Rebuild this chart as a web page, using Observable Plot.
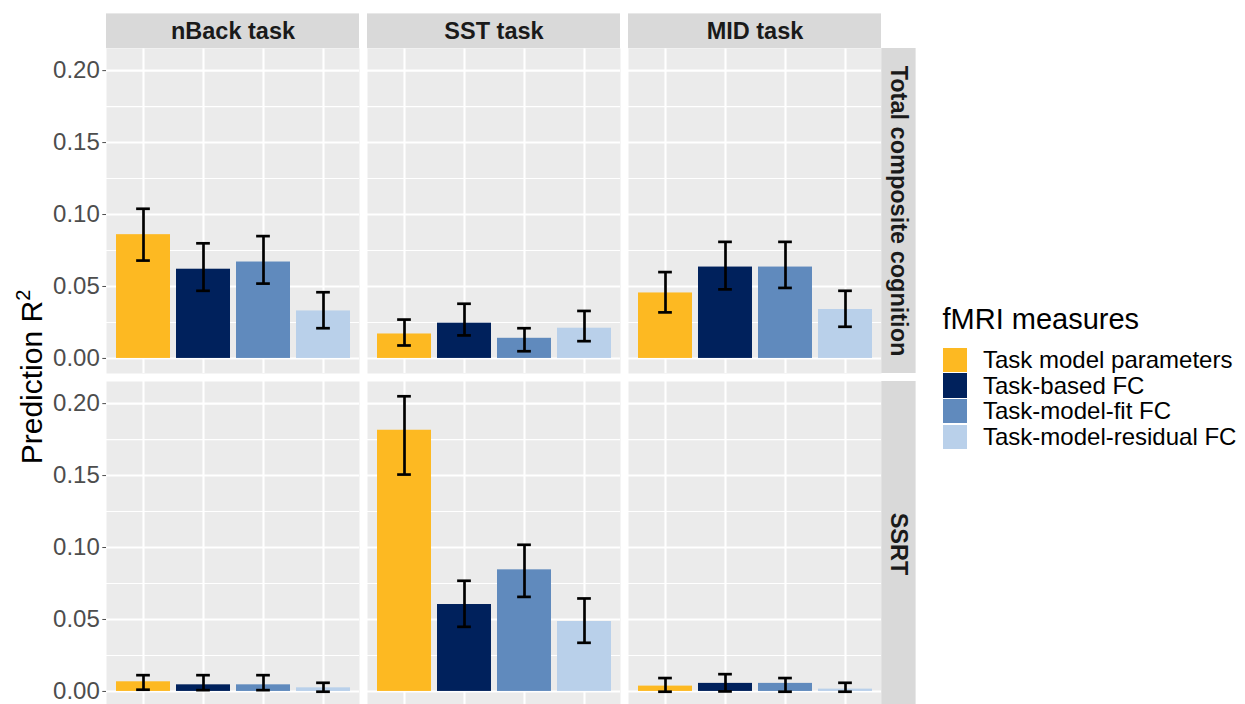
<!DOCTYPE html>
<html>
<head>
<meta charset="utf-8">
<script src="https://cdn.jsdelivr.net/npm/d3@7"></script>
<script src="https://cdn.jsdelivr.net/npm/@observablehq/plot@0.6"></script>
<style>
  html, body { margin: 0; padding: 0; background: #fff; overflow: hidden; }
  #wrap { position: relative; width: 1245px; height: 704px; overflow: hidden;
          font-family: "Liberation Sans", Arial, Helvetica, sans-serif; }
  #chart { position: absolute; left: 0; top: 0; }
  #ytitle { position: absolute; width: 400px; height: 30px; line-height: 30px;
            font-size: 30px; color: #000; text-align: center; white-space: nowrap;
            transform: rotate(-90deg); transform-origin: 50% 50%; }
  #ytitle sup { font-size: 20px; line-height: 0; vertical-align: 12px; }
  .lg-title { position: absolute; font-size: 29px; line-height: 29px; color: #000; white-space: nowrap; }
  .lg-key { position: absolute; width: 24.3px; height: 24.3px; }
  .lg-label { position: absolute; font-size: 24px; line-height: 24px; color: #000; white-space: nowrap; }
</style>
</head>
<body>
<div id="wrap">
  <div id="chart"></div>
  <div id="ytitle">Prediction R<sup>2</sup></div>
  <div id="legend"></div>
</div>
<script>
// Facets and categories
const tasks = ["nBack task", "SST task", "MID task"];
const outcomes = ["Total composite cognition", "SSRT"];
const measures = ["Task model parameters", "Task-based FC", "Task-model-fit FC", "Task-model-residual FC"];
const measureColors = ["#FDB922", "#00215C", "#608ABD", "#B9D0EA"];

// Prediction R² for total composite cognition: rows = tasks, columns = measures
const compositeR2 = [
  [0.086, 0.062, 0.067, 0.033],
  [0.017, 0.0245, 0.014, 0.021],
  [0.0455, 0.0635, 0.0635, 0.034]
];
const compositeLo = [
  [0.068, 0.047, 0.052, 0.021],
  [0.009, 0.016, 0.005, 0.012],
  [0.032, 0.048, 0.049, 0.022]
];
const compositeHi = [
  [0.104, 0.080, 0.085, 0.046],
  [0.027, 0.038, 0.021, 0.033],
  [0.060, 0.081, 0.081, 0.047]
];

// Prediction R² for SSRT
const ssrtR2 = [
  [0.0067, 0.0046, 0.0046, 0.0025],
  [0.1815, 0.0604, 0.0845, 0.0486],
  [0.0037, 0.0056, 0.0056, 0.0016]
];
const ssrtLo = [
  [0.0012, 0.0009, 0.0009, -0.0002],
  [0.1507, 0.0449, 0.0657, 0.0338],
  [-0.0002, 0.0, -0.0002, -0.0002]
];
const ssrtHi = [
  [0.0113, 0.0113, 0.0113, 0.006],
  [0.2051, 0.0769, 0.1019, 0.0646],
  [0.0093, 0.012, 0.0093, 0.006]
];

// Axis ticks
const yMajor = [0, 0.05, 0.10, 0.15, 0.20];
const yMinor = [0.025, 0.075, 0.125, 0.175];

// Long table built from the arrays above
const series = [
  {r2: compositeR2, lo: compositeLo, hi: compositeHi},
  {r2: ssrtR2, lo: ssrtLo, hi: ssrtHi}
];
const rows = [];
outcomes.forEach((outcome, oi) => {
  tasks.forEach((task, ti) => {
    measures.forEach((measure, mi) => {
      rows.push({
        outcome, task, measure,
        r2: series[oi].r2[ti][mi],
        lo: series[oi].lo[ti][mi],
        hi: series[oi].hi[ti][mi]
      });
    });
  });
});

// y domain with 5% expansion around [0, max upper bound]
const yMax = d3.max(rows, d => d.hi);
const yMin = Math.min(0, d3.min(rows, d => d.lo));
const yPad = (yMax - yMin) * 0.05;

// Layout
const W = 1245, H = 706;
const mL = 106, mR = 363, mT = 47.6, mB = 0.5;
const fxPad = 0.0306, fyPad = 0.0246;
const stripSize = 34.6;
const facetW = (W - mL - mR) / (tasks.length - fxPad) * (1 - fxPad);
const facetH = (H - mT - mB) / (outcomes.length - fyPad) * (1 - fyPad);
const barW = facetW / (measures.length - 0.1 + 0.3) * 0.9;
const capW = 14;
const capInset = (barW - capW) / 2;
const stripFont = 23.5;

const chart = Plot.plot({
  width: W,
  height: H,
  marginLeft: mL,
  marginRight: mR,
  marginTop: mT,
  marginBottom: mB,
  style: {
    fontFamily: "'Liberation Sans', Arial, Helvetica, sans-serif",
    fontSize: "24px",
    color: "#4D4D4D",
    background: "transparent",
    overflow: "visible"
  },
  fx: {domain: tasks, axis: null, paddingInner: fxPad, paddingOuter: 0},
  fy: {domain: outcomes, axis: null, paddingInner: fyPad, paddingOuter: 0},
  x: {domain: measures, axis: null, paddingInner: 0.1, paddingOuter: 0.15},
  y: {
    domain: [yMin - yPad, yMax + yPad],
    ticks: yMajor,
    tickFormat: d3.format(".2f"),
    tickSize: 3.7,
    tickPadding: 3,
    label: null
  },
  color: {domain: measures, range: measureColors},
  marks: [
    // panel background and grid
    Plot.frame({fill: "#EBEBEB", stroke: null}),
    Plot.ruleY(yMinor, {y: d => d, stroke: "#FFFFFF", strokeWidth: 1.1}),
    Plot.ruleY(yMajor, {y: d => d, stroke: "#FFFFFF", strokeWidth: 2.1}),
    Plot.ruleX(measures, {x: d => d, stroke: "#FFFFFF", strokeWidth: 2.1}),
    // bars
    Plot.barY(rows, {fx: "task", fy: "outcome", x: "measure", y: "r2", fill: "measure"}),
    // error bars
    Plot.ruleX(rows, {fx: "task", fy: "outcome", x: "measure", y1: "lo", y2: "hi", stroke: "#000", strokeWidth: 2.7}),
    Plot.tickY(rows, {fx: "task", fy: "outcome", x: "measure", y: "hi", stroke: "#000", strokeWidth: 2.7, insetLeft: capInset, insetRight: capInset}),
    Plot.tickY(rows, {fx: "task", fy: "outcome", x: "measure", y: "lo", stroke: "#000", strokeWidth: 2.7, insetLeft: capInset, insetRight: capInset}),
    // column strips (top)
    Plot.rect(tasks, {fx: d => d, fy: () => outcomes[0], fill: "#D9D9D9", insetTop: -stripSize, insetBottom: facetH}),
    Plot.text(tasks, {fx: d => d, fy: () => outcomes[0], text: d => d, frameAnchor: "top", dy: -stripSize / 2,
      textAnchor: "middle", lineAnchor: "middle",
      fontWeight: "bold", fontSize: stripFont, fill: "#1A1A1A"}),
    // row strips (right)
    Plot.rect(outcomes, {fy: d => d, fx: () => tasks[tasks.length - 1], fill: "#D9D9D9", insetLeft: facetW, insetRight: -stripSize}),
    Plot.text(outcomes, {fy: d => d, fx: () => tasks[tasks.length - 1], text: d => d, frameAnchor: "right", dx: stripSize / 2,
      textAnchor: "middle", lineAnchor: "middle",
      rotate: 90, fontWeight: "bold", fontSize: stripFont, fill: "#1A1A1A"})
  ]
});
document.getElementById("chart").appendChild(chart);

// y-axis title, centred on the panel column
const yt = document.getElementById("ytitle");
const panelMid = mT + (H - mT - mB) / 2;
yt.style.left = (32.3 - 200) + "px";
yt.style.top = (panelMid - 15) + "px";

// legend
const legend = document.getElementById("legend");
const lgX = 942.5, keyTop = 347.7, keyStep = 25.7, keySize = 24.3;
const title = document.createElement("div");
title.className = "lg-title";
title.textContent = "fMRI measures";
title.style.left = lgX + "px";
title.style.top = (329.3 - 0.8465 * 29) + "px";
legend.appendChild(title);
measures.forEach((m, i) => {
  const k = document.createElement("div");
  k.className = "lg-key";
  k.style.left = lgX + "px";
  k.style.top = (keyTop + i * keyStep) + "px";
  k.style.background = measureColors[i];
  legend.appendChild(k);
  const t = document.createElement("div");
  t.className = "lg-label";
  t.textContent = m;
  t.style.left = "983px";
  t.style.top = (keyTop + i * keyStep + keySize / 2 - 12) + "px";
  legend.appendChild(t);
});
</script>
</body>
</html>
